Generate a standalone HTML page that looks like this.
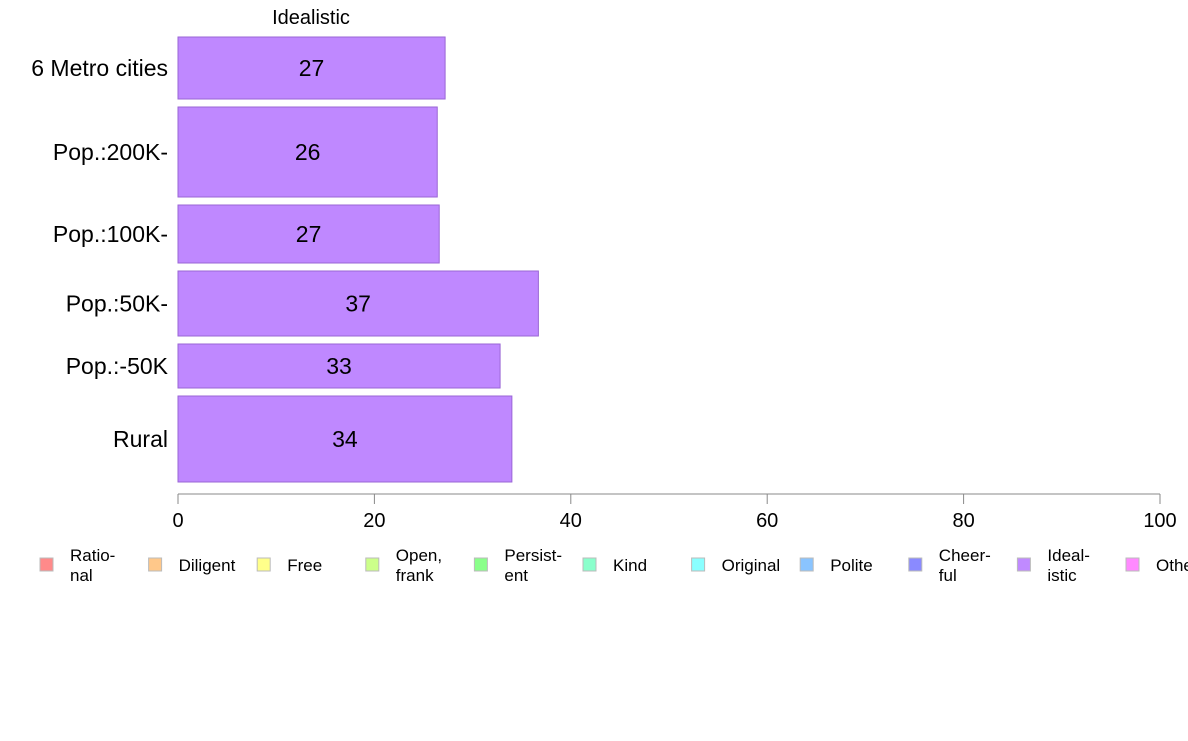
<!DOCTYPE html>
<html><head><meta charset="utf-8"><style>
body{margin:0;background:#fff;font-family:"Liberation Sans",sans-serif;}
</style></head><body>
<svg id="c" width="1188" height="736" xmlns="http://www.w3.org/2000/svg" font-family="Liberation Sans, sans-serif"></svg>
<script>
const categories=["6 Metro cities","Pop.:200K-","Pop.:100K-","Pop.:50K-","Pop.:-50K","Rural"];
const values=[27.2,26.4,26.6,36.7,32.8,34.0];
const labels=["27","26","27","37","33","34"];
const weights=[62,90,58,65,44,86];
const ticks=[0,20,40,60,80,100];
const legendNames=[["Ratio-","nal"],["Diligent"],["Free"],["Open,","frank"],["Persist-","ent"],["Kind"],["Original"],["Polite"],["Cheer-","ful"],["Ideal-","istic"],["Other"]];
const legendColors=["#ff8a8a","#ffc88a","#ffff8a","#ccff8a","#8aff8a","#8affcc","#8affff","#8ac4ff","#8a8aff","#c08aff","#ff8aff"];
const svg=document.getElementById('c');
const NS="http://www.w3.org/2000/svg";
const x0=178,x1=1160,y0=37,gap=8;
const xs=v=>x0+(x1-x0)*v/100;
function mk(t,a,txt){const e=document.createElementNS(NS,t);for(const k in a)e.setAttribute(k,a[k]);if(txt!=null)e.textContent=txt;svg.appendChild(e);return e;}
let t=mk('text',{x:311,y:24,'font-size':20,'text-anchor':'middle'},'Idealistic');


let y=y0;
categories.forEach((c,i)=>{
 const h=weights[i];
 const r=mk('rect',{x:x0,y:y,width:xs(values[i])-x0,height:h,fill:'#bf88ff',stroke:'#9a66d6','stroke-width':1});
 
 
 const l=mk('text',{x:(x0+xs(values[i]))/2,y:y+h/2+8,'font-size':23,'text-anchor':'middle'},labels[i]);
 
 
 const cl=mk('text',{x:168,y:y+h/2+8,'font-size':23,'text-anchor':'end'},c);
 
 
 y+=h+gap;
});
const ax=mk('line',{x1:x0,x2:x1,y1:494,y2:494,stroke:'#888'});


ticks.forEach(v=>{
 const tl=mk('line',{x1:xs(v),x2:xs(v),y1:494,y2:504,stroke:'#888'});
 
 
 const tt=mk('text',{x:xs(v),y:527,'font-size':20,'text-anchor':'middle'},String(v));
 
 
});
legendNames.forEach((n,i)=>{
 const lx=40+i*108.6;
 const s=mk('rect',{x:lx,y:558,width:13,height:13,fill:legendColors[i],stroke:'#bbb'});
 
 
 if(n.length==1){
  const tx=mk('text',{x:lx+30,y:571,'font-size':17},n[0]);
  
  
 }else{
  n.forEach((p,j)=>{
   const tx=mk('text',{x:lx+30,y:561+j*20,'font-size':17},p);
   
   
  });
 }
});
</script>
</body></html>
